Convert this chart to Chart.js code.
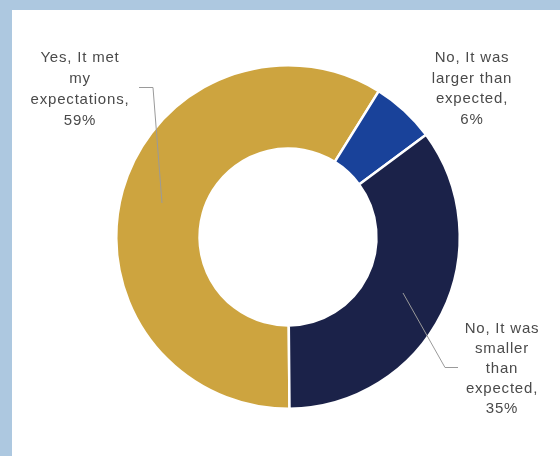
<!DOCTYPE html>
<html>
<head>
<meta charset="utf-8">
<script src="https://cdn.jsdelivr.net/npm/chart.js@4"></script>
<style>
    html, body { margin: 0; padding: 0; }
    body { width: 560px; height: 456px; background: #adc8e0; position: relative; overflow: hidden; }
    .panel { position: absolute; left: 12px; top: 10px; right: 0; bottom: 0; background: #fff; }
    #surveyChart { position: absolute; left: 0; top: 0; }
</style>
</head>
<body>
<div class="panel"></div>
<canvas id="surveyChart" width="560" height="456"></canvas>
<script>
// === DỮ LIỆU ===
const categories = [
    'Yes, It met my expectations',
    'No, It was larger than expected',
    'No, It was smaller than expected'
];
const shares = [59, 6, 35];
const sliceColors = ['#cda43f', '#19429a', '#1b2249'];

// nhãn nhiều dòng, xếp theo thứ tự categories
const labelLines = [
    ['Yes, It met', 'my', 'expectations,', shares[0] + '%'],
    ['No, It was', 'larger than', 'expected,', shares[1] + '%'],
    ['No, It was', 'smaller', 'than', 'expected,', shares[2] + '%']
];

// Vẽ nhãn và đường dẫn
const calloutPlugin = {
    id: 'callouts',
    afterDraw(chart) {
        const ctx = chart.ctx;
        const arcs = chart.getDatasetMeta(0).data;
        const cx = arcs[0].x, cy = arcs[0].y;

        // vị trí từng khối nhãn (tâm x, baseline dòng đầu)
        const spots = [
            { x: 80, y: 62, step: 21 },
            { x: 472, y: 62, step: 20.5 },
            { x: 502, y: 333, step: 20 }
        ];

        ctx.save();
        ctx.font = '15px "Liberation Sans", Arial, sans-serif';
        ctx.letterSpacing = '0.8px';
        ctx.fillStyle = '#4a4a4a';
        ctx.textAlign = 'center';
        ctx.textBaseline = 'alphabetic';
        labelLines.forEach((lines, i) => {
            const s = spots[i];
            lines.forEach((t, k) => ctx.fillText(t, s.x, s.y + k * s.step));
        });
        ctx.restore();

        // đường dẫn cho hai nhãn ngoài
        ctx.save();
        ctx.strokeStyle = '#9a9a9a';
        ctx.lineWidth = 1;
        ctx.beginPath();
        ctx.moveTo(139, 87.5);
        ctx.lineTo(153, 87.5);
        ctx.lineTo(cx - 126, cy - 34);
        ctx.moveTo(cx + 115, cy + 56);
        ctx.lineTo(445, 367.5);
        ctx.lineTo(458, 367.5);
        ctx.stroke();
        ctx.restore();
    }
};

const ctxSurvey = document.getElementById('surveyChart').getContext('2d');
const surveyChart = new Chart(ctxSurvey, {
    type: 'doughnut',
    data: {
        labels: categories,
        datasets: [{
            data: shares,
            backgroundColor: sliceColors,
            borderColor: '#ffffff',
            borderWidth: 2.5
        }]
    },
    options: {
        responsive: false,
        animation: false,
        rotation: 179.5,
        cutout: '51.5%',
        layout: { padding: { left: 113, right: 97, top: 64, bottom: 46 } },
        plugins: {
            legend: { display: false },
            tooltip: { enabled: false }
        }
    },
    plugins: [calloutPlugin]
});
</script>
</body>
</html>
